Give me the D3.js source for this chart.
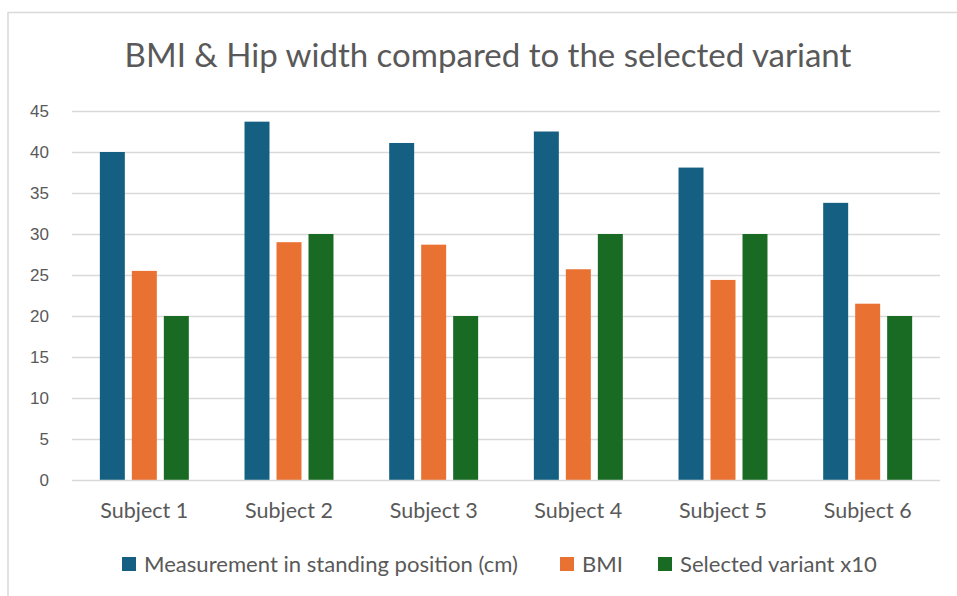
<!DOCTYPE html>
<html>
<head>
<meta charset="utf-8">
<script src="https://cdn.jsdelivr.net/npm/d3@7"></script>
<style>
  html, body { margin: 0; padding: 0; background: #fff; }
  svg { display: block; }
</style>
</head>
<body>
<svg id="chart" width="957" height="596"></svg>
<script>
// Chart data
const subjects = ["Subject 1", "Subject 2", "Subject 3", "Subject 4", "Subject 5", "Subject 6"];
const seriesNames = ["Measurement in standing position (cm)", "BMI", "Selected variant x10"];
const standing = [40.0, 43.7, 41.1, 42.5, 38.1, 33.8];
const bmi = [25.5, 29.0, 28.7, 25.7, 24.4, 21.5];
const variant = [20, 30, 20, 30, 30, 20];
const yTicks = [0, 5, 10, 15, 20, 25, 30, 35, 40, 45];
const colors = ["#156082", "#E97132", "#196B24"];

const seriesValues = [standing, bmi, variant];
const rows = subjects.map((s, i) => ({
  subject: s,
  values: seriesNames.map((n, k) => ({ key: n, k, value: seriesValues[k][i] }))
}));

const svg = d3.select("#chart");
const W = 957, H = 596;
const plot = { left: 72, right: 940, top: 111, bottom: 480 };
const textColor = "#595959";
const gridColor = "#D9D9D9";
const labelFont = "Lato, 'Open Sans', sans-serif";
const tickFont = "'Liberation Sans', Arial, sans-serif";

// Size a text element so its rendered width reaches the wanted width
function fitWidth(sel, base, width) {
  sel.attr("font-size", base);
  const w = sel.node().getComputedTextLength();
  sel.attr("font-size", (base * width / w).toFixed(2));
}

// Outer chart frame (top and left edges visible)
svg.append("path")
  .attr("d", `M8,${H} L8,12.5 L${W},12.5`)
  .attr("fill", "none")
  .attr("stroke", gridColor)
  .attr("stroke-width", 1.5);

// Title
const title = svg.append("text")
  .attr("x", 488)
  .attr("y", 67)
  .attr("text-anchor", "middle")
  .attr("font-family", labelFont)
  .attr("fill", textColor)
  .text("BMI & Hip width compared to the selected variant");
fitWidth(title, 30, 727);

// Scales
const x0 = d3.scaleBand()
  .domain(subjects)
  .range([plot.left, plot.right])
  .paddingInner(0.385)
  .paddingOuter(0.1925);

const x1 = d3.scaleBand()
  .domain(seriesNames)
  .range([0, x0.bandwidth()])
  .paddingInner(0.219);

const y = d3.scaleLinear().domain([0, 45]).range([plot.bottom, plot.top]);

// Gridlines
svg.append("g")
  .selectAll("line")
  .data(yTicks.filter(t => t > 0))
  .join("line")
  .attr("x1", plot.left)
  .attr("x2", plot.right)
  .attr("y1", d => Math.round(y(d)) + 0.5)
  .attr("y2", d => Math.round(y(d)) + 0.5)
  .attr("stroke", gridColor)
  .attr("stroke-width", 1.3);

// Y axis labels
const yAxis = d3.axisLeft(y).tickValues(yTicks).tickSize(0).tickPadding(0);
const yG = svg.append("g")
  .attr("transform", `translate(49,0)`)
  .call(yAxis);
yG.select(".domain").remove();
yG.selectAll("text")
  .attr("font-family", tickFont)
  .attr("font-size", 17)
  .attr("fill", textColor);

// Bars
svg.append("g")
  .selectAll("g")
  .data(rows)
  .join("g")
  .attr("transform", d => `translate(${x0(d.subject)},0)`)
  .selectAll("rect")
  .data(d => d.values)
  .join("rect")
  .attr("x", d => x1(d.key))
  .attr("width", x1.bandwidth())
  .attr("y", d => y(d.value))
  .attr("height", d => y(0) - y(d.value))
  .attr("fill", d => colors[d.k]);

// Baseline
svg.append("line")
  .attr("x1", plot.left)
  .attr("x2", plot.right)
  .attr("y1", y(0) + 0.5)
  .attr("y2", y(0) + 0.5)
  .attr("stroke", gridColor)
  .attr("stroke-width", 1.5);

// Category axis labels
const xAxis = d3.axisBottom(x0).tickSize(0).tickPadding(0);
const xG = svg.append("g")
  .attr("transform", `translate(0,${plot.bottom + 38})`)
  .call(xAxis);
xG.select(".domain").remove();
const catText = xG.selectAll("text")
  .attr("dy", 0)
  .attr("font-family", labelFont)
  .attr("fill", textColor);
fitWidth(catText, 18, 88);

// Legend
const legend = svg.append("g");
const sq = 14, sqGap = 8;
const itemStarts = [0, 438, 536];
const items = legend.selectAll("g")
  .data(seriesNames)
  .join("g")
  .attr("transform", (d, i) => `translate(${itemStarts[i]},0)`);
items.append("rect")
  .attr("width", sq)
  .attr("height", sq)
  .attr("y", -sq / 2)
  .attr("fill", (d, i) => colors[i]);
const legText = items.append("text")
  .attr("x", sq + sqGap)
  .attr("dy", "0.35em")
  .attr("font-family", labelFont)
  .attr("fill", textColor)
  .text(d => d);
fitWidth(d3.select(legText.nodes()[0]), 18, 374);
legText.attr("font-size", d3.select(legText.nodes()[0]).attr("font-size"));
legend.attr("transform", `translate(122,564)`);
</script>
</body>
</html>
